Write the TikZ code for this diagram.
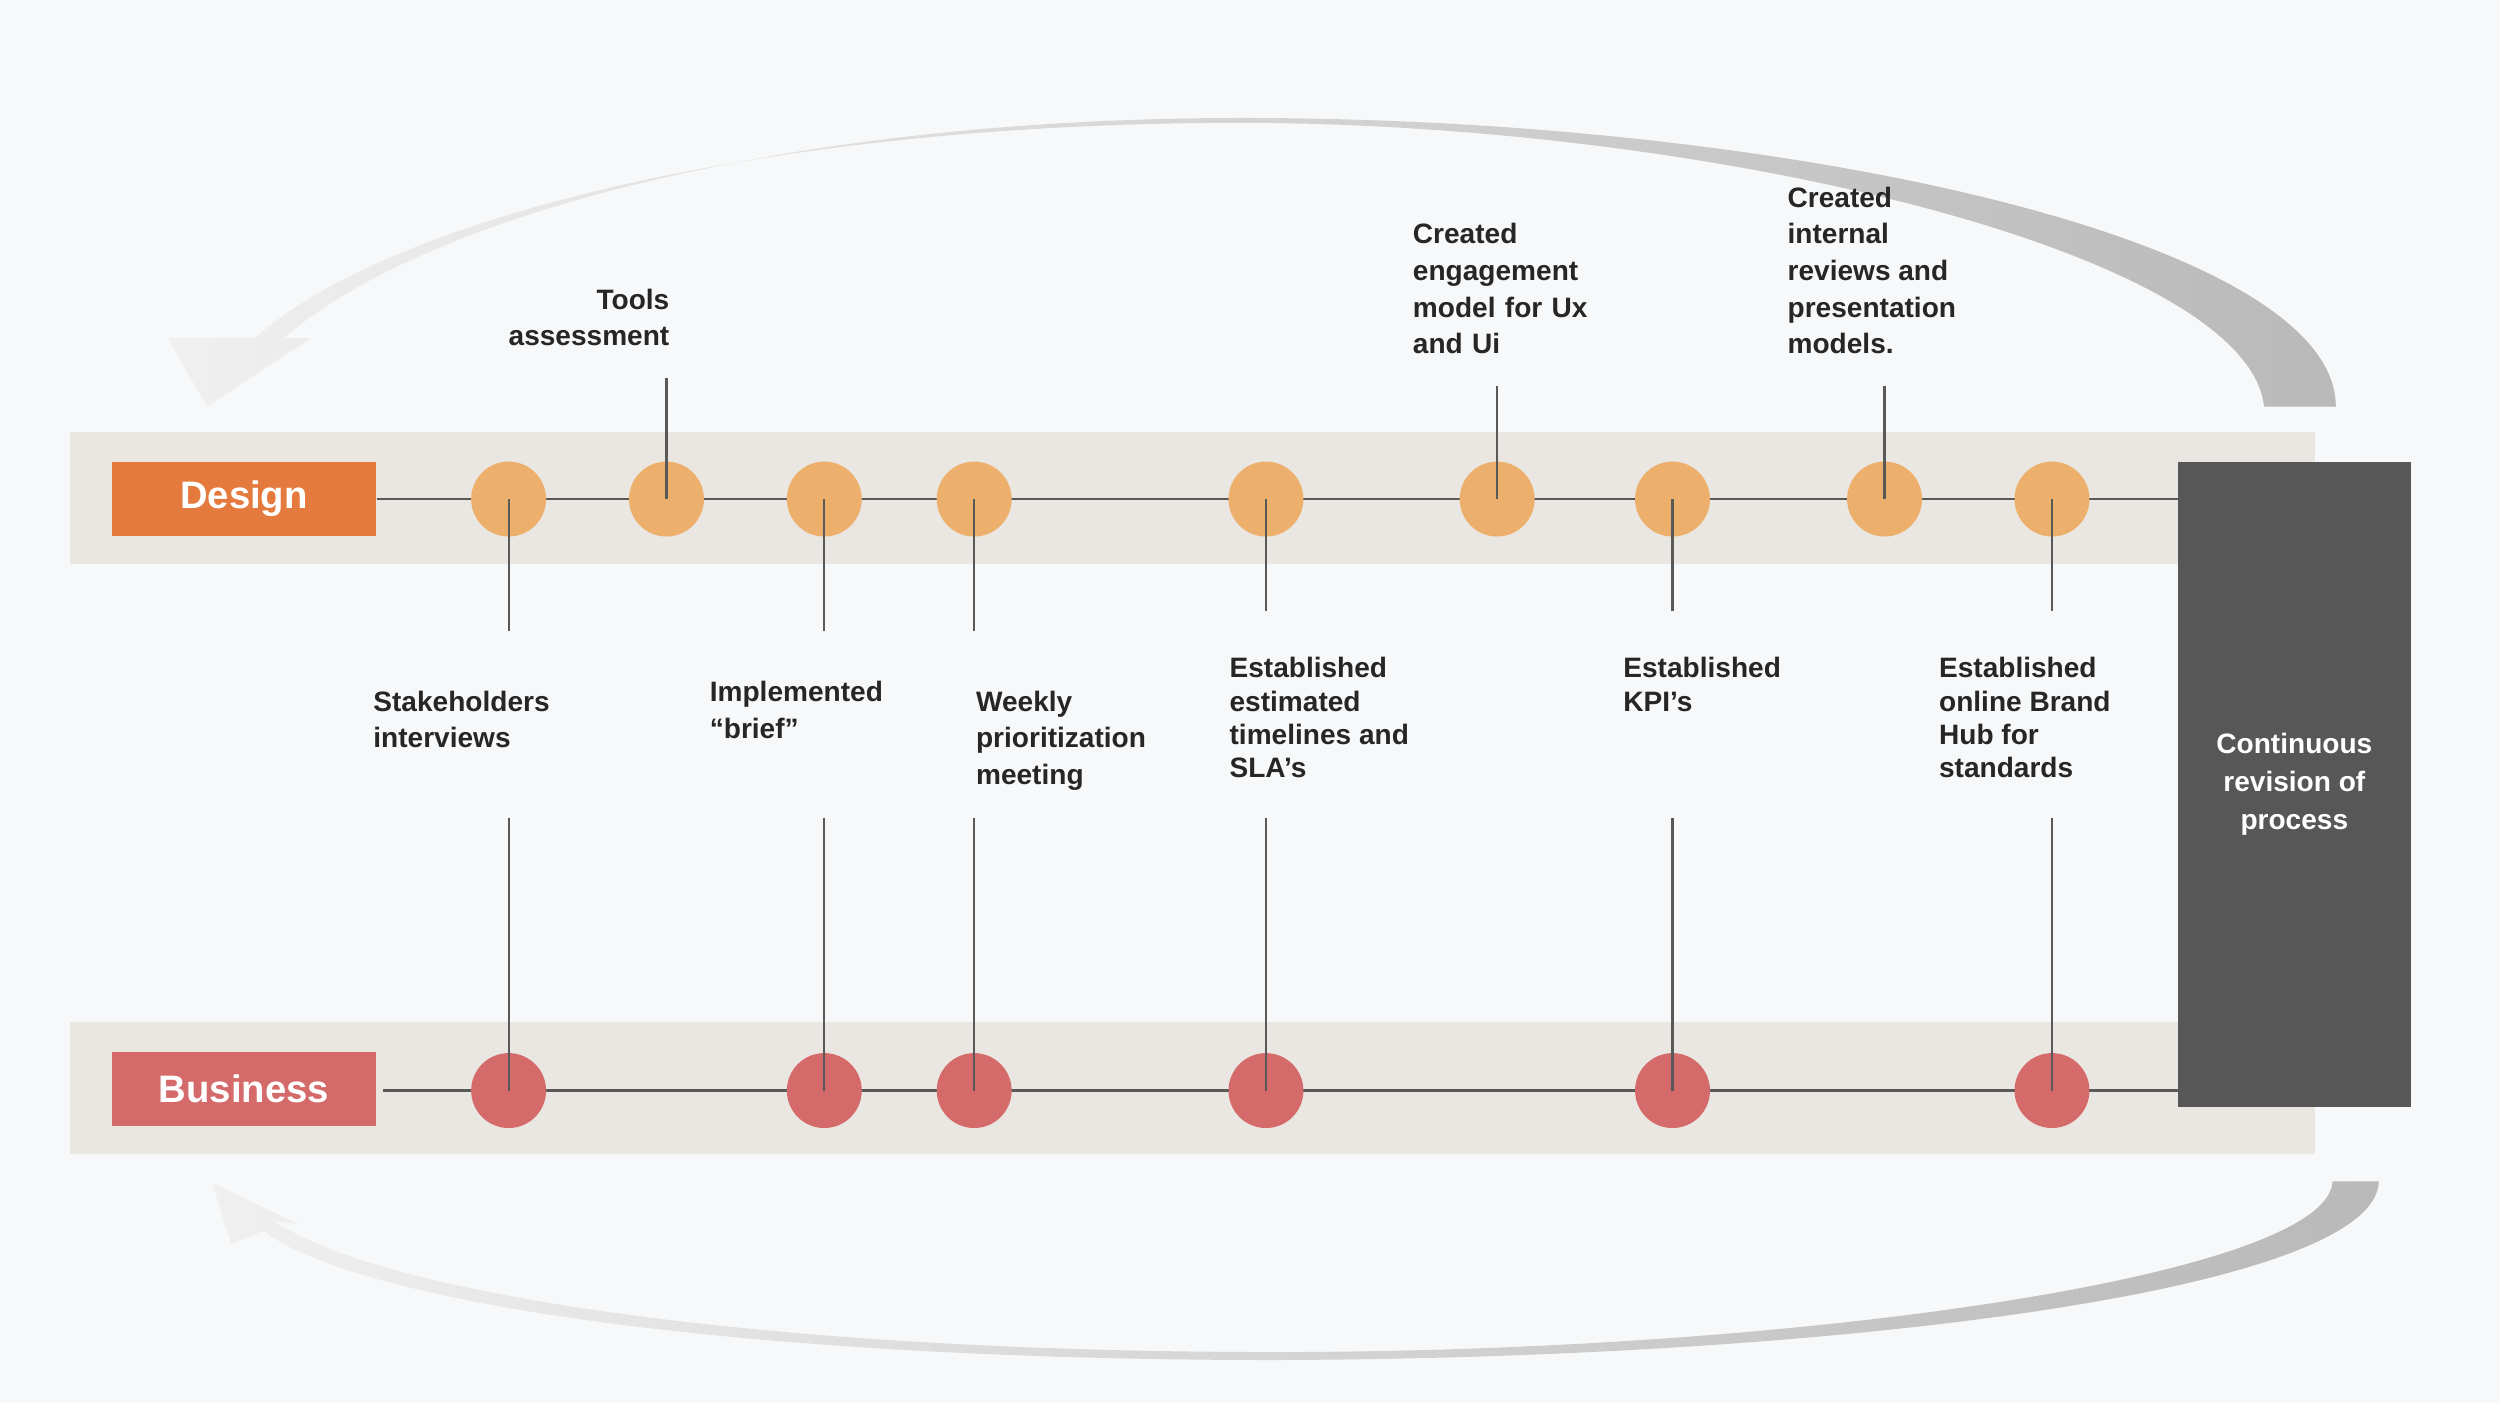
\documentclass[tikz,border=0pt]{standalone}
\usepackage{fontspec}
\setmainfont{Liberation Sans}
\begin{document}
\begin{tikzpicture}[x=1pt,y=-1pt,
 lbl/.style={font=\fontsize{17.6}{23}\selectfont\bfseries,align=left,anchor=north west,inner sep=0pt,text=black!85},
 dc/.style={circle,fill=dorange,minimum size=47pt,inner sep=0pt},
 bc/.style={circle,fill=bred,minimum size=47pt,inner sep=0pt},
 ln/.style={draw=black!65,line width=1.4pt}]
\definecolor{bg}{HTML}{F7F8F9}
\definecolor{band}{HTML}{EAE6E1}
\definecolor{dorange}{HTML}{EDB06C}
\definecolor{dlab}{HTML}{E57A3F}
\definecolor{bred}{HTML}{D46A6A}
\fill[bg] (0,0) rectangle (1568,880);
\useasboundingbox (0,0) rectangle (1568,880);
% arcs
\path[left color=gray!12,right color=gray!55,shading=axis] (1420,255) .. controls (1410,160) and (1080,78) .. (780,77) .. controls (470,77) and (240,140) .. (160,212) -- (105,212) -- (130,255) -- (195,212) -- (178,212) .. controls (260,140) and (480,74) .. (780,74) .. controls (1120,74) and (1465,150) .. (1465,255) -- cycle;
\path[left color=gray!12,right color=gray!55,shading=axis] (1492,741) .. controls (1490,810) and (1150,852) .. (800,853) .. controls (480,853) and (230,820) .. (165,772) -- (145,780) -- (133,742) -- (188,768) -- (172,766) .. controls (240,812) and (480,848) .. (800,848) .. controls (1130,848) and (1460,800) .. (1463,741) -- cycle;
% bands
\fill[band] (44,271) rectangle (1452,354);
\fill[band] (44,641) rectangle (1452,724);
\node[fill=dlab,minimum width=166pt,minimum height=46pt,inner sep=0pt,text=white,font=\fontsize{24}{28}\selectfont\bfseries] (design) at (153,313) {Design};
\node[fill=bred,minimum width=166pt,minimum height=46pt,inner sep=0pt,text=white,font=\fontsize{24}{28}\selectfont\bfseries] (business) at (153,683) {Business};
\node[fill=black!66,minimum width=146pt,minimum height=404pt,inner sep=0pt,text=white,align=center,font=\fontsize{17.6}{24}\selectfont\bfseries] (cont) at (1439,492) {Continuous\\revision of\\process};
\coordinate (dl) at (1366,313); \coordinate (bl) at (1366,684);
\draw[ln] (design.east) -- (dl);
\draw[ln] (240,684) -- (bl);
% design circles
\foreach \n/\x in {1/319,2/418,3/517,4/611,5/794,6/939,7/1049,8/1182,9/1287}
  \node[dc] (d\n) at (\x,313) {};
\foreach \n/\x in {1/319,3/517,4/611,5/794,7/1049,9/1287}
  \node[bc] (b\n) at (\x,684) {};
% connectors
\foreach \n/\x/\e in {1/319/396,3/517/396,4/611/396,5/794/383,7/1049/383,9/1287/383}{
  \coordinate (e\n) at (\x,\e); \coordinate (s\n) at (\x,513);
  \draw[ln] (d\n.center) -- (e\n);
  \draw[ln] (s\n) -- (b\n.center);}
\coordinate (t2) at (418,237); \draw[ln] (d2.center) -- (t2);
\coordinate (t6) at (939,242); \draw[ln] (d6.center) -- (t6);
\coordinate (t8) at (1182,242); \draw[ln] (d8.center) -- (t8);
% labels
\node[lbl,align=right,anchor=north east] (l2) at (420,181) {Tools\\assessment};
\node[lbl,text width=140pt] (l6) at (886,140) {Created\\engagement\\model for Ux\\and Ui};
\node[lbl] (l8) at (1121,117) {Created\\internal\\reviews and\\presentation\\models.};
\node[lbl] (l1) at (234,433) {Stakeholders\\interviews};
\node[lbl] (l3) at (445,427) {Implemented\\“brief”};
\node[lbl] (l4) at (612,433) {Weekly\\prioritization\\meeting};
\node[lbl,font=\fontsize{17.6}{21}\selectfont\bfseries] (l5) at (771,412) {Established\\estimated\\timelines and\\SLA’s};
\node[lbl,font=\fontsize{17.6}{21}\selectfont\bfseries] (l7) at (1018,412) {Established\\KPI’s};
\node[lbl,font=\fontsize{17.6}{21}\selectfont\bfseries] (l9) at (1216,412) {Established\\online Brand\\Hub for\\standards};
\end{tikzpicture}
\end{document}
